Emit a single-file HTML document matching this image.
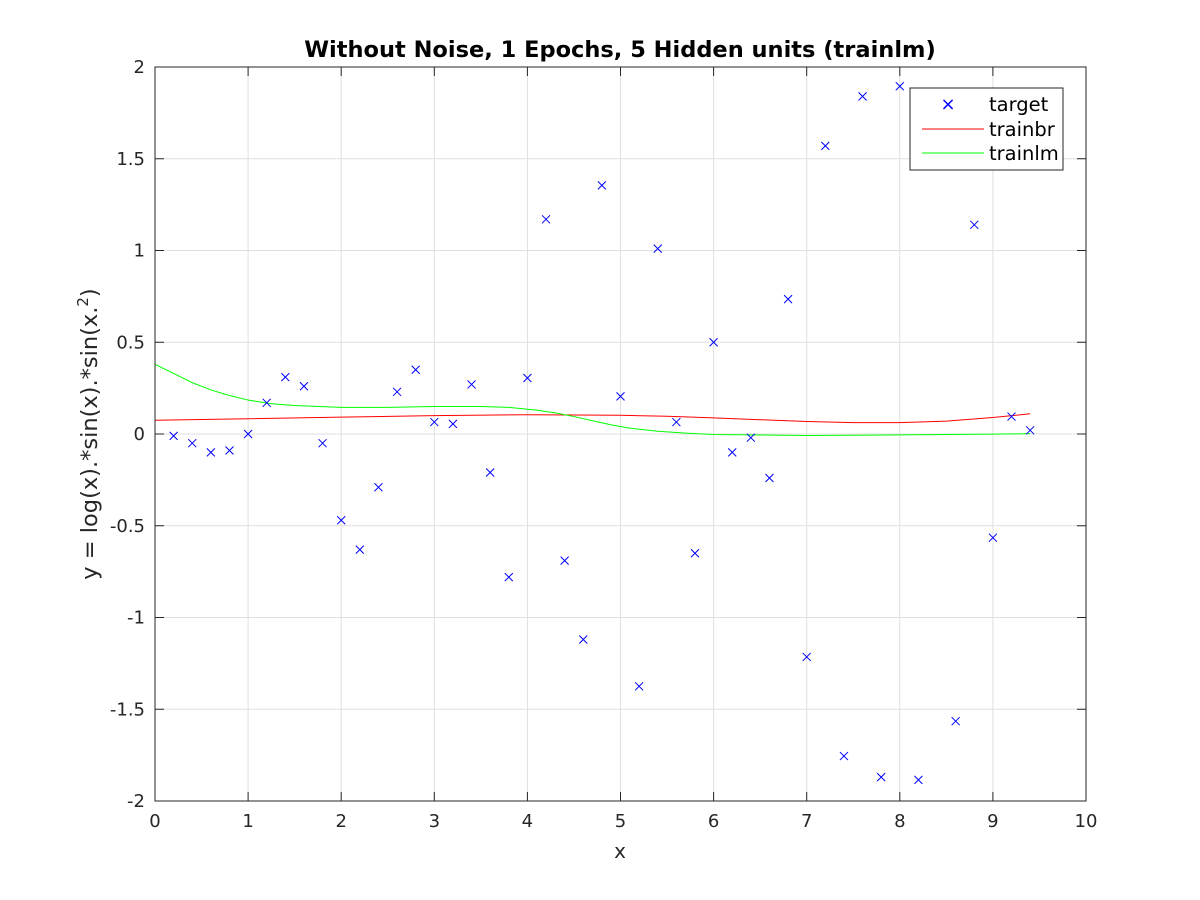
<!DOCTYPE html>
<html><head><meta charset="utf-8"><style>
html,body{margin:0;padding:0;background:#fff;}
svg{display:block;font-family:"DejaVu Sans","Liberation Sans",sans-serif;}
</style></head><body>
<svg id="chart" width="1200" height="900" xmlns="http://www.w3.org/2000/svg">
<rect width="1200" height="900" fill="#fff"/>
<g id="grid"></g>
<g id="series"></g>
<g id="axes"></g>
<text x="620" y="57" text-anchor="middle" font-size="22.5" font-weight="bold" fill="#000">Without Noise, 1 Epochs, 5 Hidden units (trainlm)</text>
<text x="620" y="858" text-anchor="middle" font-size="20" fill="#262626">x</text>
<text transform="translate(97,434) rotate(-90)" text-anchor="middle" font-size="22.5" fill="#262626">y = log(x).*sin(x).*sin(x.<tspan dy="-9" font-size="15">2</tspan><tspan dy="9">)</tspan></text>
<g>
<rect x="910" y="88" width="153" height="82" fill="#fff" stroke="#262626" stroke-width="1"/>
<text x="948" y="110" text-anchor="middle" font-size="18" fill="#0000ff">×</text>
<text x="989" y="111" font-size="19.5" fill="#000">target</text>
<line x1="922" y1="129" x2="984" y2="129" stroke="#ff0000"/>
<text x="989" y="136" font-size="19.5" fill="#000">trainbr</text>
<line x1="922" y1="153" x2="984" y2="153" stroke="#00ff00"/>
<text x="989" y="160" font-size="19.5" fill="#000">trainlm</text>
</g>
</svg>
<script>
const targetX=[0.2,0.4,0.6,0.8,1.0,1.2,1.4,1.6,1.8,2.0,2.2,2.4,2.6,2.8,3.0,3.2,3.4,3.6,3.8,4.0,4.2,4.4,4.6,4.8,5.0,5.2,5.4,5.6,5.8,6.0,6.2,6.4,6.6,6.8,7.0,7.2,7.4,7.6,7.8,8.0,8.2,8.4,8.6,8.8,9.0,9.2,9.4];
const targetY=[-0.01,-0.05,-0.10,-0.09,0,0.17,0.31,0.26,-0.05,-0.47,-0.63,-0.29,0.23,0.35,0.065,0.055,0.27,-0.21,-0.78,0.305,1.17,-0.69,-1.12,1.355,0.205,-1.375,1.01,0.065,-0.65,0.50,-0.10,-0.02,-0.24,0.735,-1.215,1.57,-1.755,1.84,-1.87,1.895,-1.885,1.80,-1.565,1.14,-0.565,0.095,0.02];
const brX=[0,1,2,3,4,5,5.5,6,6.5,7,7.5,8,8.5,9,9.4];
const brY=[0.075,0.083,0.092,0.100,0.105,0.102,0.097,0.088,0.078,0.068,0.062,0.062,0.070,0.090,0.110];
const lmX=[0,0.2,0.4,0.6,0.8,1,1.25,1.5,2,2.5,3,3.5,3.8,4.1,4.3,4.5,4.7,4.9,5.1,5.4,5.7,6,7,8,9,9.4];
const lmY=[0.38,0.33,0.28,0.24,0.21,0.185,0.165,0.155,0.145,0.145,0.15,0.15,0.145,0.13,0.115,0.095,0.072,0.05,0.032,0.015,0.005,-0.003,-0.008,-0.005,-0.001,0.002];
const xTicks=[0,1,2,3,4,5,6,7,8,9,10];
const yTicks=[-2,-1.5,-1,-0.5,0,0.5,1,1.5,2];
const X0=155,X1=1086,Y0=801,Y1=67;
const sx=v=>X0+(v-0)/(10-0)*(X1-X0);
const sy=v=>Y0-(v+2)/4*(Y0-Y1);
const NS="http://www.w3.org/2000/svg";
function mk(parent,tag,attrs){const e=document.createElementNS(NS,tag);for(const k in attrs)e.setAttribute(k,attrs[k]);parent.appendChild(e);return e;}
const grid=document.getElementById('grid'),axes=document.getElementById('axes'),series=document.getElementById('series');
mk(grid,'rect',{x:X0,y:Y1,width:X1-X0,height:Y0-Y1,fill:'#fff'});
xTicks.forEach(t=>{
  const g=mk(grid,'line',{x1:sx(t),x2:sx(t),y1:Y1,y2:Y0,stroke:'#dfdfdf','stroke-width':1});
  
  
  const tk=mk(axes,'line',{x1:sx(t),x2:sx(t),y1:Y0,y2:Y0-9,stroke:'#262626'});
  
  
  const tk2=mk(axes,'line',{x1:sx(t),x2:sx(t),y1:Y1,y2:Y1+9,stroke:'#262626'});
  
  
  const l=mk(axes,'text',{x:sx(t),y:Y0+26,'text-anchor':'middle','font-size':18,fill:'#262626'});
  l.textContent=t;
  
  
});
yTicks.forEach(t=>{
  const g=mk(grid,'line',{x1:X0,x2:X1,y1:sy(t),y2:sy(t),stroke:'#dfdfdf','stroke-width':1});
  
  
  const tk=mk(axes,'line',{x1:X0,x2:X0+9,y1:sy(t),y2:sy(t),stroke:'#262626'});
  
  
  const tk2=mk(axes,'line',{x1:X1,x2:X1-9,y1:sy(t),y2:sy(t),stroke:'#262626'});
  
  
  const l=mk(axes,'text',{x:X0-10,y:sy(t)+6,'text-anchor':'end','font-size':18,fill:'#262626'});
  l.textContent=t;
  
  
});
const box=mk(axes,'rect',{x:X0,y:Y1,width:X1-X0,height:Y0-Y1,fill:'none',stroke:'#262626','stroke-width':1});


function line(xs,ys,color,name){
  const p=mk(series,'path',{d:xs.map((x,i)=>(i?'L':'M')+sx(x).toFixed(2)+' '+sy(ys[i]).toFixed(2)).join(''),fill:'none',stroke:color,'stroke-width':1});
  
  
}
line(brX,brY,'#ff0000','trainbr-line');
line(lmX,lmY,'#00ff00','trainlm-line');
targetX.forEach((x,i)=>{
  const cx=sx(x),cy=sy(targetY[i]),r=4;
  const m=mk(series,'path',{d:`M${cx-r} ${cy-r}L${cx+r} ${cy+r}M${cx-r} ${cy+r}L${cx+r} ${cy-r}`,stroke:'#0000ff','stroke-width':1,fill:'none'});
  
  
});
</script>
</body></html>
